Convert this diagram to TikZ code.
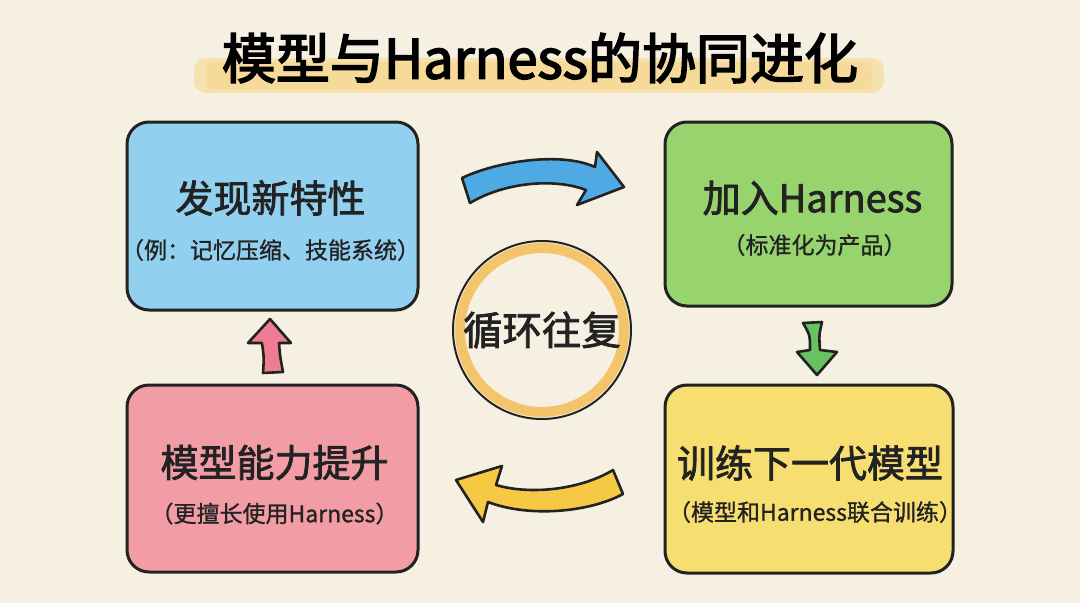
\documentclass[tikz,border=0pt]{standalone}
\usepackage{fontspec}
\setmainfont{Noto Sans CJK SC}
\newfontfamily\titlefont{Noto Sans CJK SC}[FakeBold=3]
\newfontfamily\mainfont{Noto Sans CJK SC}[FakeBold=2]
\newfontfamily\subfont{Noto Sans CJK SC}[FakeBold=1]
\usetikzlibrary{calc}
\definecolor{bg}{HTML}{F5F0E2}
\definecolor{ink}{HTML}{222222}
\definecolor{boxblue}{HTML}{92D0F0}
\definecolor{boxgreen}{HTML}{98D46E}
\definecolor{boxyellow}{HTML}{F7DE70}
\definecolor{boxpink}{HTML}{F29DA6}
\definecolor{hl}{HTML}{F7D68A}
\definecolor{ring}{HTML}{F4C46A}
\definecolor{arblue}{HTML}{4FA9E2}
\definecolor{aryellow}{HTML}{F6C944}
\definecolor{arpink}{HTML}{EE7C93}
\definecolor{argreen}{HTML}{68C262}
\tikzset{
  card/.style={draw=ink, line width=3pt, rounded corners=22pt, minimum width=#1},
  maintext/.style={font=\mainfont\fontsize{38}{40}\selectfont, text=ink, inner sep=0pt},
  subtext/.style={font=\subfont\fontsize{23}{26}\selectfont, text=ink, inner sep=0pt},
  blockarrow/.style={draw=ink, line width=2.6pt, line join=round, fill=#1},
}
\begin{document}
\begin{tikzpicture}[x=1pt,y=-1pt]
\useasboundingbox (0,0) rectangle (1080,603);
\fill[bg] (0,0) rectangle (1080,603);

% title highlight
\fill[hl, opacity=0.55, rounded corners=12pt] (194,58) rectangle (884,93);
\fill[hl, opacity=0.6, rounded corners=8pt] (206,62) rectangle (872,90);
\node[font=\titlefont\fontsize{54}{58}\selectfont, text=black, inner sep=0pt] (title) at (540,58) {模型与Harness的协同进化};

% boxes
\node[card=291pt, minimum height=188pt, fill=boxblue] (discover) at (272.5,216) {};
\node[card=287pt, minimum height=184pt, fill=boxgreen] (join) at (808.5,214) {};
\node[card=288pt, minimum height=188pt, fill=boxyellow] (train) at (809,479) {};
\node[card=291pt, minimum height=187pt, fill=boxpink] (improve) at (272.5,478.5) {};

\node[maintext] (discoverT) at ($(discover.center)+(-2,-18)$) {发现新特性};
\node[subtext] (discoverS) at ($(discover.center)+(-2,34)$) {（例：记忆压缩、技能系统）};
\node[maintext] (joinT) at ($(join.center)+(4,-16)$) {加入Harness};
\node[subtext] (joinS) at ($(join.center)+(6,31)$) {（标准化为产品）};
\node[maintext] (trainT) at ($(train.center)+(1,-16)$) {训练下一代模型};
\node[subtext] (trainS) at ($(train.center)+(6,33)$) {（模型和Harness联合训练）};
\node[maintext] (improveT) at ($(improve.center)+(2,-16)$) {模型能力提升};
\node[subtext] (improveS) at ($(improve.center)+(2,35)$) {（更擅长使用Harness）};

% center circle
\node[circle, draw=ink, line width=2pt, minimum size=178pt, fill=bg, inner sep=0pt] (loop) at (542,330) {};
\draw[ring, line width=10pt] (loop.center) circle (82);
\node[maintext, font=\mainfont\fontsize{39.5}{42}\selectfont] (loopT) at (loop.center) {循环往复};

% arrows
\draw[blockarrow=arblue] (462,178) .. controls (495,162) and (560,151) .. (595,167)
  -- (597,152) -- (624,187) -- (577,205) -- (586,190)
  .. controls (555,178) and (505,182) .. (470,203) -- cycle;
\draw[blockarrow=argreen] (803,323) -- (822,322) .. controls (819,335) .. (820,350)
  -- (837,352) -- (817,375) -- (797,352) -- (810,350) .. controls (810,335) .. (803,323) -- cycle;
\draw[blockarrow=aryellow] (456,480) -- (502,466) -- (496,485)
  .. controls (530,495) and (580,490) .. (613,470) -- (623,494)
  .. controls (590,512) and (530,518) .. (488,502) -- (483,522) -- cycle;
\draw[blockarrow=arpink] (270,319) -- (291,343) -- (279,343) .. controls (280,356) .. (283,372)
  -- (263,373) .. controls (264,358) .. (262,343) -- (248,343) -- cycle;
\end{tikzpicture}
\end{document}
